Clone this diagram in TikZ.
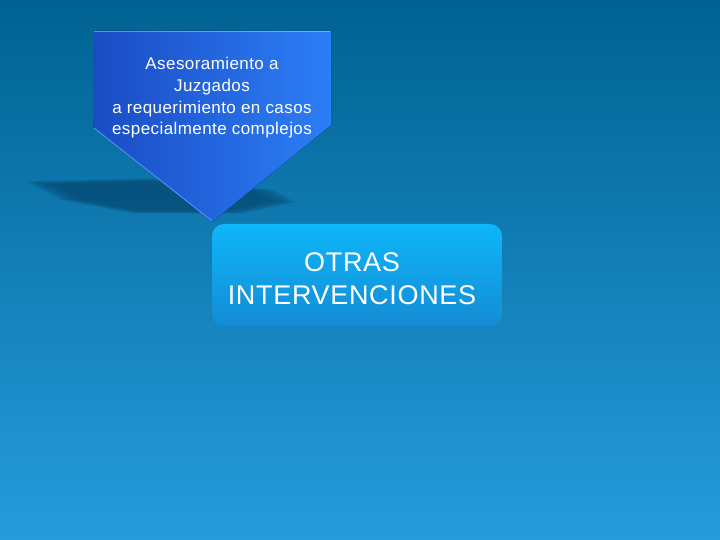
\documentclass[tikz,border=0pt]{standalone}
\usepackage{fontspec}
\setmainfont[LetterSpace = 2.5]{Liberation Sans}
\usepackage{tikz}
\definecolor{fondoarriba}{RGB}{0,98,146}
\definecolor{fondomedio}{RGB}{0,128,190}
\definecolor{fondoabajo}{RGB}{38,156,220}
\definecolor{flechaizq}{RGB}{26,76,196}
\definecolor{flechader}{RGB}{44,126,246}
\definecolor{bordeflecha}{RGB}{90,160,255}
\definecolor{cajaarriba}{RGB}{14,182,250}
\definecolor{cajaabajo}{RGB}{20,140,212}
\definecolor{sombra}{RGB}{0,36,66}

\begin{document}
\begin{tikzpicture}[x = 1pt, y = -1pt,
    every node/.style = { align = center, inner sep = 0pt, text = white },
    caja/.style = { rounded corners = 12pt, minimum width = 290pt, minimum height = 102pt,
      top color = cajaarriba, bottom color = cajaabajo },
    textochico/.style = { font = \fontsize{17}{21.7}\selectfont },
    textogrande/.style = { font = \fontsize{27}{33}\selectfont }]
      \useasboundingbox (0,0) rectangle (720,540);
      \fill[top color = fondoarriba, middle color = fondomedio, bottom color = fondoabajo]
        (0,0) rectangle (720,540);
      \foreach \s in {1.04, 1.02, 1, .97, .94, .9, .85}
        \fill[sombra, opacity = .07, shift = {(165,197)}, scale = \s]
          (-134,-15) -- (-15,-18) -- (105,-7) -- (126,5) -- (75,16) -- (-30,16) -- (-100,3) -- cycle;
      \fill[left color = flechaizq, right color = flechader]
        (93,31) -- (331,31) -- (331,125) -- (212,222) -- (93,127) -- cycle;
      \draw[white, opacity = .35, line width = 1pt] (94,32) -- (330,32);
      \draw[bordeflecha, opacity = .8, line width = 1pt] (94,128) -- (212,221);
      \node[textochico] (asesoramiento) at (212,98)
        { Asesoramiento a \\ Juzgados \\ a requerimiento en casos \\ especialmente complejos };
      \node[caja] (otras) at (357,275) {};
      \node[textogrande] (otrastexto) at (352,279) { OTRAS \\ INTERVENCIONES };
    \end{tikzpicture}
\end{document}
